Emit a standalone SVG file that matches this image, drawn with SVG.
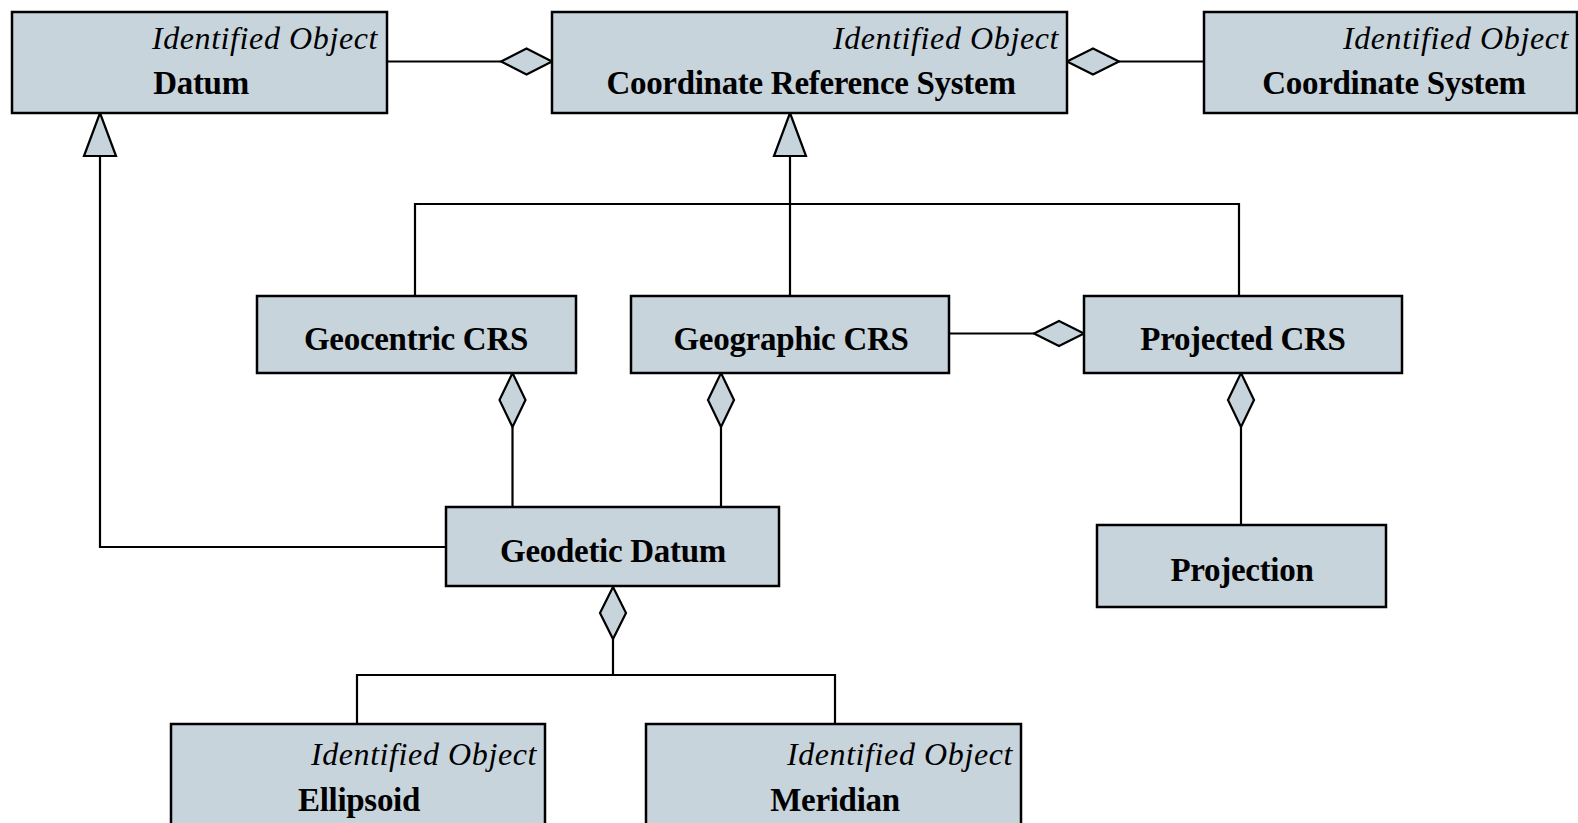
<svg xmlns="http://www.w3.org/2000/svg" width="1578" height="823" viewBox="0 0 1578 823">
<style>
.box{fill:#c8d4dc;stroke:#000;stroke-width:2.5}
.ln{fill:none;stroke:#000;stroke-width:2.2}
.sh{fill:#c8d4dc;stroke:#000;stroke-width:2.2;stroke-linejoin:miter}
.it{font-family:"Liberation Serif",serif;font-style:italic;font-size:32px;letter-spacing:0.6px;text-anchor:end;fill:#000}
.bd{font-family:"Liberation Serif",serif;font-weight:bold;font-size:33px;letter-spacing:-0.3px;text-anchor:middle;fill:#000}
</style>
<rect width="1578" height="823" fill="#fff"/>
<g id="connectors">
<path class="ln" d="M387,61.5 H501"/>
<polygon class="sh" points="501,61.5 526.5,48.5 552,61.5 526.5,74.5"/>
<path class="ln" d="M1119,61.5 H1204"/>
<polygon class="sh" points="1067,61.5 1093,48.5 1119,61.5 1093,74.5"/>
<path class="ln" d="M100,156 V547 H446"/>
<polygon class="sh" points="100,113 116,156 84,156"/>
<path class="ln" d="M790,156 V296"/>
<path class="ln" d="M415,296 V204 H1239 V296"/>
<polygon class="sh" points="790,113 806,156 774,156"/>
<path class="ln" d="M512.5,427 V507"/>
<polygon class="sh" points="512.5,373 525.5,400 512.5,427 499.5,400"/>
<path class="ln" d="M721,427 V507"/>
<polygon class="sh" points="721,373 734,400 721,427 708,400"/>
<path class="ln" d="M949,333.5 H1034"/>
<polygon class="sh" points="1034,333.5 1059,321 1084,333.5 1059,346"/>
<path class="ln" d="M1241,427 V525"/>
<polygon class="sh" points="1241,373 1254,400 1241,427 1228,400"/>
<path class="ln" d="M613,639 V675 M357,724 V675 H835 V724"/>
<polygon class="sh" points="613,587 626,613 613,639 600,613"/>
</g>
<g id="datum">
<rect class="box" x="12" y="12" width="375" height="101"/>
<text class="it" x="378" y="49">Identified Object</text>
<text class="bd" x="201" y="94">Datum</text>
</g>
<g id="crs">
<rect class="box" x="552" y="12" width="515" height="101"/>
<text class="it" x="1059" y="49">Identified Object</text>
<text class="bd" x="811" y="94">Coordinate Reference System</text>
</g>
<g id="cs">
<rect class="box" x="1204" y="12" width="373" height="101"/>
<text class="it" x="1569" y="49">Identified Object</text>
<text class="bd" x="1394" y="94">Coordinate System</text>
</g>
<g id="geocentric">
<rect class="box" x="257" y="296" width="319" height="77"/>
<text class="bd" x="416" y="350">Geocentric CRS</text>
</g>
<g id="geographic">
<rect class="box" x="631" y="296" width="318" height="77"/>
<text class="bd" x="791" y="350">Geographic CRS</text>
</g>
<g id="projected">
<rect class="box" x="1084" y="296" width="318" height="77"/>
<text class="bd" x="1243" y="350">Projected CRS</text>
</g>
<g id="geodetic">
<rect class="box" x="446" y="507" width="333" height="79"/>
<text class="bd" x="613" y="562">Geodetic Datum</text>
</g>
<g id="projection">
<rect class="box" x="1097" y="525" width="289" height="82"/>
<text class="bd" x="1242" y="581">Projection</text>
</g>
<g id="ellipsoid">
<rect class="box" x="171" y="724" width="374" height="110"/>
<text class="it" x="537" y="765">Identified Object</text>
<text class="bd" x="359" y="811">Ellipsoid</text>
</g>
<g id="meridian">
<rect class="box" x="646" y="724" width="375" height="110"/>
<text class="it" x="1013" y="765">Identified Object</text>
<text class="bd" x="835" y="811">Meridian</text>
</g>
</svg>
